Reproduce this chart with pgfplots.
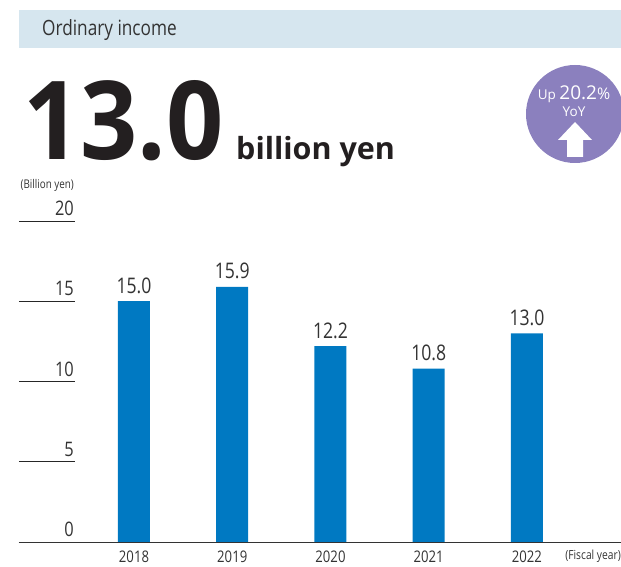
\documentclass[border=0pt]{standalone}
\usepackage{pgfplots}
\pgfplotsset{compat=1.18}
\usepackage{fontspec}
\setmainfont{Open Sans}
\newfontfamily\cond[FakeStretch=0.82]{Open Sans}
\newfontfamily\heavy[FakeStretch=0.92]{Open Sans}
\definecolor{barblue}{HTML}{0079C2}
\definecolor{band}{HTML}{D6E6EF}
\definecolor{badge}{HTML}{8B80BE}
\definecolor{ink}{HTML}{333333}
\definecolor{bigink}{HTML}{231F20}
\begin{document}
\begin{tikzpicture}[x=1pt,y=1pt]
\path[use as bounding box] (0,0) rectangle (621,567);
\fill[band] (19,519) rectangle (621,557);
\node[anchor=west,inner sep=0pt,text=ink,font=\cond\fontsize{21}{21}\selectfont] at (42,536.5) {Ordinary income};
\node[anchor=base west,inner sep=0pt,text=bigink,font=\heavy\fontsize{109}{109}\selectfont\bfseries] at (23,407) {13.0};
\node[anchor=base west,inner sep=0pt,text=bigink,font=\fontsize{30.5}{31}\selectfont\bfseries] at (236,407) {billion yen};
\fill[badge] (575,453) circle (49);
\node[text=white,font=\fontsize{13.5}{14}\selectfont,inner sep=0pt] at (574,473) {Up {\fontsize{19}{19}\selectfont 20.2}{\fontsize{16}{16}\selectfont\%}};
\node[text=white,font=\fontsize{13.5}{14}\selectfont,inner sep=0pt] at (574,455) {YoY};
\fill[white] (575,445) -- (592,427) -- (583,427) -- (583,410) -- (567,410) -- (567,427) -- (558,427) -- cycle;
\begin{axis}[
    at={(19pt,25pt)}, anchor=south west,
    scale only axis,
    width=602pt, height=321pt,
    xmin=-1.1705, xmax=4.957,
    ymin=0, ymax=20,
    axis x line=bottom, axis y line=left,
    x axis line style={-,draw=ink,line width=0.9pt},
    y axis line style={draw=none},
    xtick=data,
    xticklabels={2018,2019,2020,2021,2022},
    ytick={0,5,10,15,20},
    xtick style={draw=none},
    ytick style={draw=black!85,line width=0.8pt},
    tick align=inside,
    major tick length=56pt,
    /pgf/number format/assume math mode=true,
    y tick label style={anchor=south east,xshift=55pt,yshift=5pt,inner sep=0pt,
        text=ink,font=\cond\fontsize{20}{20}\selectfont},
    x tick label style={text=ink,inner sep=0pt,anchor=center,yshift=41pt,font=\cond\fontsize{16}{16}\selectfont},
    ybar, bar width=32pt,
    nodes near coords,
    point meta=y,
    nodes near coords style={text=ink,yshift=4pt,font=\cond\fontsize{21.5}{22}\selectfont,
        /pgf/number format/fixed,/pgf/number format/fixed zerofill,/pgf/number format/precision=1,
        /pgf/number format/assume math mode=true},
]
\addplot[fill=barblue,draw=none] coordinates {(0,15.0) (1,15.9) (2,12.2) (3,10.8) (4,13.0)};
\end{axis}
\node[anchor=east,inner sep=0pt,text=ink,font=\cond\fontsize{12}{12}\selectfont] at (74,381.5) {(Billion yen)};
\node[anchor=east,inner sep=0pt,text=ink,font=\cond\fontsize{12.5}{13}\selectfont] at (621,11) {(Fiscal year)};
\end{tikzpicture}
\end{document}
